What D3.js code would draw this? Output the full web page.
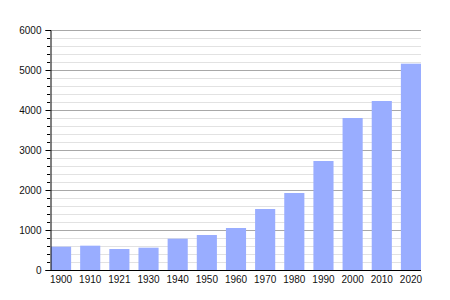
<!DOCTYPE html>
<html><head><meta charset="utf-8">
<script src="https://cdn.jsdelivr.net/npm/d3@7"></script>
<style>body{margin:0;background:#fff}svg{display:block}text{font-family:"Liberation Sans",Arial,sans-serif;font-size:10px;fill:#111}</style>
</head><body>
<svg id="c" width="450" height="300"></svg>
<script>
const years = ["1900","1910","1921","1930","1940","1950","1960","1970","1980","1990","2000","2010","2020"];
const population = [583,608,525,558,783,875,1050,1525,1925,2725,3800,4225,5158];
const majorTicks = [0,1000,2000,3000,4000,5000,6000];
const minorTicks = d3.range(0,6001,200);

(function(){
const svg = d3.select("#c");
const mLeft = 50, mRight = 421, mTop = 30, mBottom = 270;
const y = d3.scaleLinear().domain([0,6000]).range([mBottom, mTop]);
const x = d3.scaleBand().domain(years).range([51, 421]).paddingInner(0.31).paddingOuter(0);
const font = "Liberation Sans, Arial, sans-serif";

svg.append("g").selectAll("line").data(minorTicks.filter(v=>v%1000!==0)).join("line")
  .attr("x1",mLeft).attr("x2",mRight).attr("y1",d=>y(d)+0.5).attr("y2",d=>y(d)+0.5)
  .attr("stroke","#e2e2e2").attr("stroke-width",1);
svg.append("g").selectAll("line").data(majorTicks.filter(v=>v>0)).join("line")
  .attr("x1",mLeft).attr("x2",mRight).attr("y1",d=>y(d)+0.5).attr("y2",d=>y(d)+0.5)
  .attr("stroke","#a8a8a8").attr("stroke-width",1);

svg.append("g").selectAll("rect").data(population).join("rect")
  .attr("x",(d,i)=>x(years[i])).attr("width",x.bandwidth())
  .attr("y",d=>y(d)).attr("height",d=>mBottom-y(d))
  .attr("fill","#99adff");

const yAxis = d3.axisLeft(y).tickValues(majorTicks).tickSize(5).tickPadding(4).tickFormat(d3.format("d"));
const gy = svg.append("g").attr("transform",`translate(${mLeft+0.5},0)`).call(yAxis);
gy.select(".domain").attr("stroke","#000");
gy.selectAll(".tick line").attr("stroke","#000");
gy.selectAll(".tick text").attr("fill","#111").style("font-size","10px").style("font-family",font);
svg.append("g").selectAll("line").data(minorTicks.filter(v=>v%1000!==0)).join("line")
  .attr("x1",mLeft-3).attr("x2",mLeft).attr("y1",d=>y(d)+0.5).attr("y2",d=>y(d)+0.5)
  .attr("stroke","#000");

const xAxis = d3.axisBottom(x).tickSize(0).tickPadding(5);
const gx = svg.append("g").attr("transform",`translate(0,${mBottom+0.5})`).call(xAxis);
gx.select(".domain").remove();
gx.selectAll(".tick text").attr("fill","#111").style("font-size","10px").style("font-family",font);
svg.append("line").attr("x1",mLeft).attr("x2",mRight).attr("y1",mBottom+0.5).attr("y2",mBottom+0.5).attr("stroke","#000");
})();
</script>
</body></html>
